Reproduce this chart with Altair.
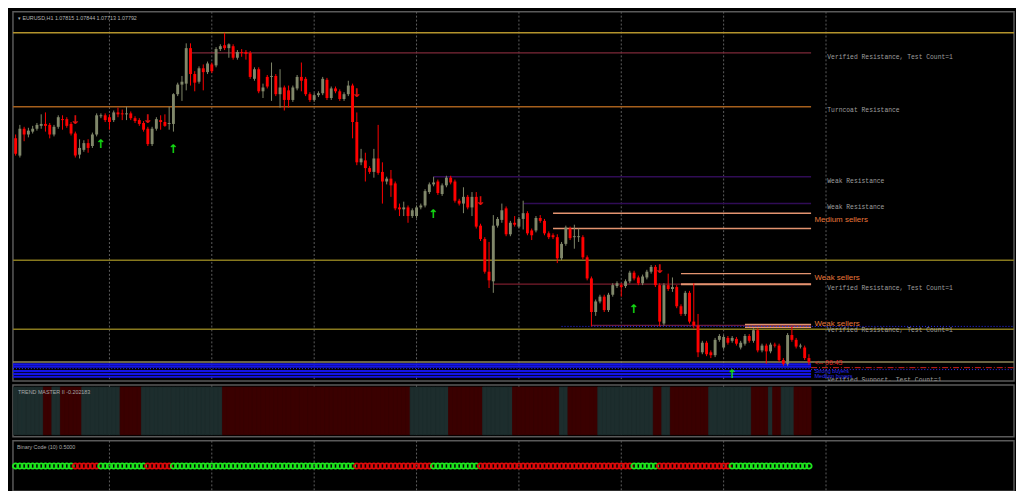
import altair as alt
import pandas as pd

# ---------------- data (EURUSD H1, prices in pips: 10779 -> 1.0779) ----------------
open_pips = [11012,10994,11022,11016,11019,11022,11025,11027,11026,11016,
11024,11032,11032,11027,11017,10995,11000,11007,11004,11016,
11035,11036,11034,11031,11039,11038,11037,11038,11033,11031,
11028,11022,11006,11022,11031,11029,11027,11027,11058,11068,
11069,11106,11079,11071,11085,11081,11089,11088,11105,11109,
11106,11108,11096,11102,11102,11101,11074,11084,11061,11076,
11076,11077,11058,11065,11062,11052,11064,11076,11074,11058,
11052,11057,11059,11073,11054,11064,11061,11053,11058,11067,
11029,10987,10989,10981,10977,10991,10977,10967,10970,10965,
10940,10938,10940,10931,10931,10940,10942,10956,10964,10967,
10954,10963,10971,10967,10947,10944,10951,10940,10951,10921,
10907,10873,10863,10921,10927,10939,10912,10924,10920,10928,
10934,10916,10916,10929,10926,10913,10911,10909,10887,10902,
10918,10909,10909,10909,10888,10866,10831,10842,10847,10833,
10849,10858,10859,10858,10863,10872,10867,10861,10867,10873,
10878,10859,10819,10859,10855,10857,10837,10829,10851,10821,
10817,10789,10799,10789,10786,10802,10794,10804,10801,10803,
10794,10798,10806,10801,10812,10791,10796,10790,10797,10796,
10781,10777,10807,10802,10795,10794,10783]
close_pips = [10996,11022,11016,11020,11022,11026,11027,11025,11016,11024,
11034,11031,11025,11017,10994,11002,11007,11002,11016,11036,
11036,11031,11029,11039,11037,11037,11038,11033,11030,11027,
11021,11006,11022,11032,11029,11025,11028,11058,11068,11071,
11106,11079,11070,11085,11081,11090,11082,11105,11108,11106,
11110,11096,11102,11101,11100,11076,11084,11061,11065,11066,
11077,11058,11065,11052,11052,11065,11076,11072,11058,11052,
11057,11059,11074,11054,11064,11061,11053,11058,11067,11029,
10987,10991,10981,10977,10991,10976,10967,10970,10963,10939,
10938,10940,10931,10937,10940,10942,10957,10964,10966,10955,
10963,10971,10966,10947,10944,10951,10940,10951,10920,10907,
10873,10864,10921,10928,10937,10912,10924,10922,10928,10934,
10913,10911,10929,10926,10913,10909,10909,10887,10902,10919,
10908,10910,10910,10888,10866,10831,10842,10847,10833,10849,
10859,10861,10857,10863,10872,10866,10861,10868,10873,10878,
10859,10821,10859,10855,10857,10837,10829,10851,10821,10817,
10789,10799,10787,10786,10802,10806,10805,10799,10804,10798,
10799,10806,10801,10812,10791,10796,10790,10797,10796,10781,
10777,10807,10802,10795,10796,10783,10779]
high_pips = [11016,11026,11024,11023,11025,11028,11037,11039,11028,11026,
11036,11036,11034,11029,11019,11011,11010,11011,11018,11038,
11038,11038,11037,11041,11044,11042,11045,11040,11035,11033,
11030,11024,11024,11034,11036,11037,11045,11059,11070,11077,
11111,11111,11082,11087,11089,11092,11091,11107,11110,11122,
11111,11110,11104,11105,11104,11103,11086,11086,11069,11078,
11091,11079,11084,11067,11067,11067,11078,11091,11076,11060,
11059,11061,11076,11075,11066,11066,11063,11060,11072,11069,
11039,11001,10997,10983,11001,11026,10987,10972,10979,10967,
10944,10946,10942,10939,10942,10944,10959,10966,10972,10969,
10965,10973,10973,10969,10949,10961,10953,10956,10956,10923,
10909,10904,10932,10930,10944,10941,10926,10931,10930,10947,
10936,10918,10931,10932,10928,10915,10913,10912,10904,10921,
10920,10922,10918,10911,10890,10868,10844,10849,10849,10851,
10861,10863,10861,10865,10874,10874,10869,10870,10875,10880,
10880,10861,10861,10871,10867,10859,10839,10853,10853,10861,
10829,10801,10801,10791,10804,10808,10807,10806,10806,10805,
10801,10808,10808,10814,10814,10798,10798,10799,10799,10798,
10783,10809,10816,10804,10798,10796,10787]
low_pips = [10994,10992,11009,11013,11017,11020,11022,11019,11012,11014,
11022,11021,11023,11015,10992,10991,10998,10997,11002,11014,
11033,11029,11021,11029,11034,11031,11031,11031,11028,11025,
11019,11004,11004,11020,11021,11024,11021,11019,11056,11051,
11062,11067,11061,11069,11062,11079,11080,11086,11103,11104,
11096,11094,11094,11097,11094,11074,11072,11059,11054,11064,
11051,11056,11044,11041,11044,11050,11062,11061,11056,11050,
11050,11055,11057,11052,11052,11059,11051,11051,11056,11012,
10984,10984,10967,10975,10971,10974,10944,10964,10951,10937,
10931,10931,10924,10929,10929,10938,10940,10954,10962,10953,
10952,10961,10964,10945,10942,10934,10938,10931,10918,10905,
10871,10856,10851,10919,10924,10910,10910,10920,10918,10917,
10911,10906,10914,10924,10911,10907,10907,10882,10885,10900,
10906,10897,10904,10886,10864,10816,10827,10840,10831,10831,
10847,10856,10847,10856,10861,10864,10859,10859,10865,10871,
10857,10816,10817,10853,10852,10835,10827,10827,10819,10814,
10784,10787,10785,10783,10784,10800,10792,10797,10799,10796,
10792,10796,10799,10799,10789,10789,10777,10788,10794,10779,
10775,10775,10800,10793,10793,10781,10776]

# Trend Master II histogram state runs (+1 = up / teal, -1 = down / dark red)
trend_state = [1, -1, 1, -1, 1, -1, 1, -1, 1, -1, 1, -1, 1, -1, 1, -1, 1, -1, 1, -1, 1, -1, 1, -1]
trend_len = [7, 2, 2, 5, 9, 5, 19, 44, 9, 8, 7, 11, 2, 7, 13, 2, 2, 9, 10, 4, 1, 2, 3, 4]

# Binary Code (10) runs (1 = green, 0 = red)
binary_state = [1, 0, 1, 0, 1, 0, 1, 0, 1, 0, 1]
binary_len = [14, 6, 11, 6, 43, 18, 11, 36, 6, 17, 19]

# signal arrows
buy_bars = [20, 37, 98, 145, 168]
buy_pips = [11006, 11001, 10933, 10834, 10766]
sell_bars = [14, 31, 80, 109, 151]
sell_pips = [11031, 11032, 11059, 10947, 10876]

# support / resistance zone lines
zone_pips = [11122, 11101, 11045, 10972, 10944, 10934, 10918, 10885, 10871, 10860,
             10860, 10817, 10818, 10815, 10813, 10779]
zone_from = [-0.62, 41, -0.62, 98, 119, 126, 126, -0.62, 156, 112,
             156, 135, 171, 171, -0.62, -0.62]
zone_to = [234.08, 186.5, 186.5, 186.5, 186.5, 186.5, 186.5, 234.08, 186.5, 186.5,
           186.5, 186.5, 186.5, 186.5, 234.08, 234.08]
zone_color = ["#b3932c", "#7c2838", "#a55f1c", "#300c56", "#300c56", "#e39470", "#e39470",
              "#87791e", "#e39470", "#7a1c2c", "#e39470", "#6a1c3c", "#e39470", "#e39470",
              "#87791e", "#8f875a"]
zone_width = [1.5, 1.2, 1.5, 1.5, 1.5, 1.5, 1.5, 1.5, 1.5, 1.2, 2.0, 1.2, 1.5, 1.5, 1.5, 1.5]

# buyers band
band_pips = [10776.5, 10774, 10769.5, 10766.5, 10763.5]
dot_pips = [10772, 10771, 10816]
dot_from = [-0.62, 186.5, 128]
dot_to = [186.5, 234.08, 234.08]
bid_pips = [10773]

# texts
grey_text = ["Verified Resistance, Test Count=1", "Turncoat Resistance", "Weak Resistance",
             "Weak Resistance", "Verified Resistance, Test Count=1",
             "Verified Resistance, Test Count=1", "Verified Support, Test Count=1"]
grey_pips = [11097, 11041, 10968, 10940, 10856, 10812, 10760]
zone_text = ["Medium sellers", "Weak sellers", "Weak sellers"]
zone_text_pips = [10927, 10866, 10819]
buyer_text = ["Strong buyers", "Medium buyers"]
buyer_pips = [10769.5, 10764.5]
timer_text = ["<-- 06:43"]
timer_pips = [10777.5]

grid_bars = [22, 46, 70, 94, 118, 142, 166, 190]

title_main = "\u25be EURUSD,H1  1.07815 1.07844 1.07713 1.07792"
title_trend = "TREND MASTER II -0.202183"
title_binary = "Binary Code (10) 0.5000"

# ---------------- build ----------------
PIP = 10000.0
W = 1008
H_MAIN, H_TREND, H_BIN = 372, 52, 51
XS = alt.Scale(domain=[-0.62, 234.08], nice=False, zero=False)
YS = alt.Scale(domain=[1.0759, 1.1144], nice=False, zero=False)
BULL, BEAR = "#80876a", "#ff0000"

n = len(open_pips)
bars = pd.DataFrame({
    "i": list(range(n)),
    "o": [v / PIP for v in open_pips],
    "c": [v / PIP for v in close_pips],
})
bars["h"] = [max(a, b, c) / PIP for a, b, c in zip(high_pips, open_pips, close_pips)]
bars["l"] = [min(a, b, c) / PIP for a, b, c in zip(low_pips, open_pips, close_pips)]
bars["col"] = [BULL if c >= o else BEAR for o, c in zip(open_pips, close_pips)]
bars["x0"] = bars["i"] - 0.34
bars["x1"] = bars["i"] + 0.34

grid = pd.DataFrame({"g": grid_bars})
zones = pd.DataFrame({"p": [v / PIP for v in zone_pips], "x0": zone_from, "x1": zone_to,
                      "col": zone_color, "w": zone_width})
band = pd.DataFrame({"p": [v / PIP for v in band_pips], "x0": -0.62, "x1": 186.5})
dots = pd.DataFrame({"p": [v / PIP for v in dot_pips], "x0": dot_from, "x1": dot_to})
bid = pd.DataFrame({"p": [v / PIP for v in bid_pips], "x0": 186.5, "x1": 234.08})

X = lambda f: alt.X(f, scale=XS, axis=None)
Y = lambda f: alt.Y(f, scale=YS, axis=None)
COL = alt.Color("col:N", scale=None, legend=None)

grid_layer = alt.Chart(grid).mark_rule(color="#5e5e5e", strokeDash=[2, 2], strokeWidth=1).encode(
    x=X("g:Q"))

zone_layer = alt.Chart(zones).mark_rule().encode(
    x=X("x0:Q"), x2="x1:Q", y=Y("p:Q"), color=COL,
    strokeWidth=alt.StrokeWidth("w:Q", scale=None))

band_layer = alt.Chart(band).mark_rule(color="#1414e6", strokeWidth=2.2).encode(
    x=X("x0:Q"), x2="x1:Q", y=Y("p:Q"))
dot_layer = alt.Chart(dots).mark_rule(color="#2a2aff", strokeWidth=1, strokeDash=[1, 2]).encode(
    x=X("x0:Q"), x2="x1:Q", y=Y("p:Q"))
bid_layer = alt.Chart(bid).mark_rule(color="#d42020", strokeWidth=1, strokeDash=[6, 2, 1, 2]).encode(
    x=X("x0:Q"), x2="x1:Q", y=Y("p:Q"))

wick_layer = alt.Chart(bars).mark_rule(strokeWidth=1).encode(
    x=X("i:Q"), y=Y("l:Q"), y2="h:Q", color=COL)
body_layer = alt.Chart(bars).mark_rect().encode(
    x=X("x0:Q"), x2="x1:Q", y=Y("o:Q"), y2="c:Q", color=COL)

buy_df = pd.DataFrame({"i": buy_bars, "p": [v / PIP for v in buy_pips], "t": "\u2191"})
sell_df = pd.DataFrame({"i": sell_bars, "p": [v / PIP for v in sell_pips], "t": "\u2193"})
buy_layer = alt.Chart(buy_df).mark_text(color="#14d814", fontSize=12, fontWeight="bold",
                                        font="DejaVu Sans").encode(x=X("i:Q"), y=Y("p:Q"), text="t:N")
sell_layer = alt.Chart(sell_df).mark_text(color="#e01010", fontSize=12, fontWeight="bold",
                                          font="DejaVu Sans").encode(x=X("i:Q"), y=Y("p:Q"), text="t:N")

grey_df = pd.DataFrame({"t": grey_text, "p": [v / PIP for v in grey_pips], "i": 190.3})
grey_layer = alt.Chart(grey_df).mark_text(align="left", baseline="middle", fontSize=6.4,
                                          font="Liberation Mono", color="#9e9e9e", clip=True).encode(
    x=X("i:Q"), y=Y("p:Q"), text="t:N")
zt_df = pd.DataFrame({"t": zone_text, "p": [v / PIP for v in zone_text_pips], "i": 187.3})
zt_layer = alt.Chart(zt_df).mark_text(align="left", baseline="middle", fontSize=8,
                                      font="Liberation Sans", color="#e8773a").encode(
    x=X("i:Q"), y=Y("p:Q"), text="t:N")
by_df = pd.DataFrame({"t": buyer_text, "p": [v / PIP for v in buyer_pips], "i": 187.3})
by_layer = alt.Chart(by_df).mark_text(align="left", baseline="middle", fontSize=5.6,
                                      font="Liberation Sans", color="#2a2aff", clip=True).encode(
    x=X("i:Q"), y=Y("p:Q"), text="t:N")
tm_df = pd.DataFrame({"t": timer_text, "p": [v / PIP for v in timer_pips], "i": 187.3})
tm_layer = alt.Chart(tm_df).mark_text(align="left", baseline="middle", fontSize=7,
                                      font="Liberation Sans", color="#e02020").encode(
    x=X("i:Q"), y=Y("p:Q"), text="t:N")

cap_main = alt.Chart(pd.DataFrame({"t": [title_main]})).mark_text(
    align="left", baseline="middle", fontSize=5.4, font="Liberation Sans", color="#b4b4b4").encode(
    x=alt.value(5), y=alt.value(6), text="t:N")

main = alt.layer(grid_layer, zone_layer, band_layer, dot_layer, bid_layer, wick_layer, body_layer,
                 buy_layer, sell_layer, grey_layer, zt_layer, by_layer, tm_layer, cap_main
                 ).properties(width=W, height=H_MAIN)

# ---- Trend Master panel ----
trend = []
for s, k in zip(trend_state, trend_len):
    trend += [s] * k
tdf = pd.DataFrame({"i": list(range(len(trend))),
                    "col": ["#1d2d2d" if s > 0 else "#3a0000" for s in trend]})
tdf["x0"] = tdf["i"] - 0.5
tdf["x1"] = tdf["i"] + 0.5
trend_rect = alt.Chart(tdf).mark_rect(strokeWidth=0.8).encode(
    x=X("x0:Q"), x2="x1:Q", y=alt.value(2), y2=alt.value(50), color=COL,
    stroke=alt.Stroke("col:N", scale=None, legend=None))
cap_trend = alt.Chart(pd.DataFrame({"t": [title_trend]})).mark_text(
    align="left", baseline="middle", fontSize=5.4, font="Liberation Sans", color="#a8a8a8").encode(
    x=alt.value(5), y=alt.value(7), text="t:N")
trend_panel = alt.layer(grid_layer, trend_rect, cap_trend).properties(width=W, height=H_TREND)

# ---- Binary Code panel ----
binv = []
for s, k in zip(binary_state, binary_len):
    binv += [s] * k
bdf = pd.DataFrame({"i": list(range(len(binv))),
                    "col": ["#1ee61e" if s else "#dc0a0a" for s in binv], "lvl": 0})
bin_pts = alt.Chart(bdf).mark_point(shape="circle", filled=False, size=30, strokeWidth=1.8,
                                    opacity=1).encode(
    x=X("i:Q"), y=alt.Y("lvl:Q", scale=alt.Scale(domain=[-1, 1]), axis=None), color=COL)
cap_bin = alt.Chart(pd.DataFrame({"t": [title_binary]})).mark_text(
    align="left", baseline="middle", fontSize=5.4, font="Liberation Sans", color="#a8a8a8").encode(
    x=alt.value(4), y=alt.value(6), text="t:N")
bin_panel = alt.layer(grid_layer, bin_pts, cap_bin).properties(width=W, height=H_BIN)

chart = alt.vconcat(main, trend_panel, bin_panel, spacing=0).properties(
    padding=0, background="#000000"
).configure_view(stroke="#5a5a5a", strokeWidth=1.5).configure_concat(spacing=0)

chart.save("out.html", embed_options={"renderer": "svg", "actions": False})
